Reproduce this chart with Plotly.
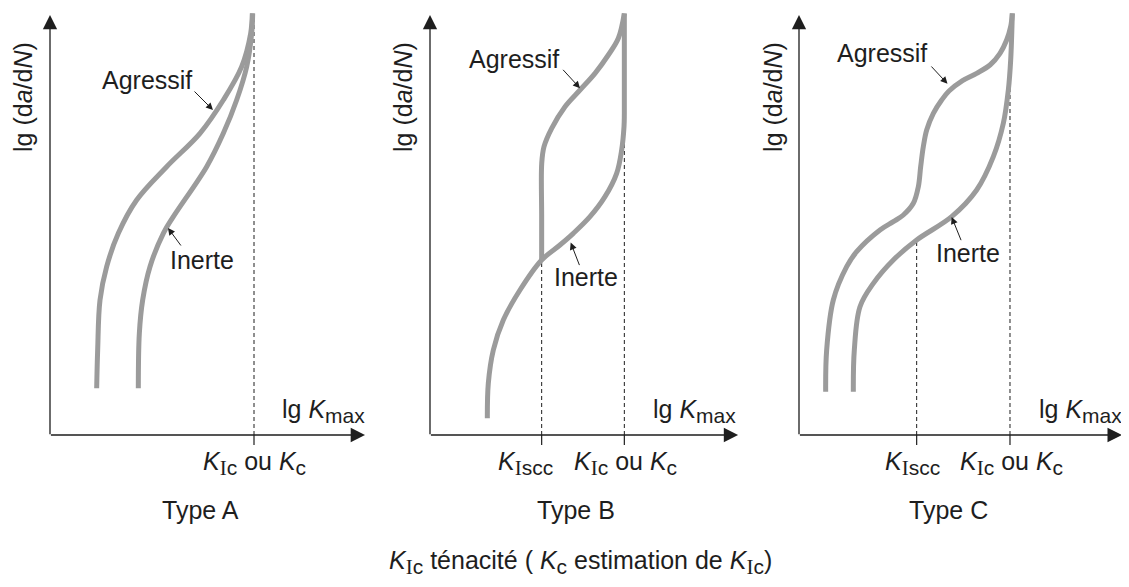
import plotly.graph_objects as go

# ---------------- data (panel units: x = lg Kmax, y = lg da/dN) ----------------
# Type A
agr_a_x = [1.556, 1.589, 1.667, 1.889, 2.278, 2.889, 3.889, 5.0, 5.778, 6.389, 6.689, 6.744]
agr_a_y = [1.167, 2.125, 3.375, 4.208, 5.042, 5.875, 6.708, 7.542, 8.375, 9.208, 10.04, 10.54]
inr_a_x = [2.944, 2.978, 3.089, 3.333, 3.778, 4.111, 5.222, 5.778, 6.222, 6.556, 6.722, 6.756]
inr_a_y = [1.167, 2.542, 3.375, 4.208, 5.042, 5.458, 6.708, 7.542, 8.375, 9.208, 10.04, 10.54]
# Type B
inr_b_x = [1.911, 1.944, 2.111, 2.444, 3.0, 3.722, 4.333, 4.778, 5.333, 5.833, 6.222, 6.389, 6.467, 6.478, 6.478]
inr_b_y = [0.417, 1.292, 2.125, 2.875, 3.625, 4.375, 4.750, 5.042, 5.458, 5.958, 6.542, 7.125, 7.708, 8.042, 10.54]
agr_b_x = [3.722, 3.722, 3.724, 3.8, 4.056, 4.5, 5.0, 5.5, 5.944, 6.278, 6.478]
agr_b_y = [4.375, 5.5, 6.792, 7.208, 7.667, 8.208, 8.625, 9.042, 9.5, 9.917, 10.54]
# Type C
agr_c_x = [0.889, 0.922, 1.144, 1.589, 1.922, 2.7, 3.144, 3.478, 3.811, 3.978, 4.056, 4.144, 4.256, 4.478,
           4.756, 5.0, 5.45, 5.922, 6.367, 6.7, 6.922, 7.056, 7.111]
agr_c_y = [1.083, 2.125, 3.375, 4.208, 4.583, 5.125, 5.333, 5.5, 5.792, 6.208, 6.708, 7.208, 7.625, 8.042,
           8.375, 8.6, 8.86, 9.042, 9.25, 9.542, 9.875, 10.21, 10.54]
inr_c_x = [1.811, 1.844, 2.033, 2.478, 3.144, 3.922, 5.089, 5.922, 6.478, 6.811, 6.978, 7.056, 7.111]
inr_c_y = [1.083, 2.125, 3.208, 3.792, 4.375, 4.875, 5.458, 6.125, 6.958, 7.792, 8.625, 9.375, 10.54]

# characteristic K values per panel and top of their dashed guides
k_ic = [6.8, 6.478, 7.033]
k_ic_top = [10.5, 8.042, 8.71]
k_iscc = [None, 3.722, 3.922]
k_iscc_top = [None, 4.375, 4.875]
x_axis_len = [10.5, 10.27, 10.76]
y_axis_len = 10.5

panel_names = ["Type A", "Type B", "Type C"]
curve_names = ["Agressif", "Inerte"]

# ---------------- styles ----------------
CURVE = "#9b9b9b"
INK = "#1e1e1e"
FONT = "Liberation Sans, Arial, sans-serif"
FS = 25
SUBFS = 21


def sub(s):
    return '<sub><span style="font-size:%dpx">%s</span></sub>' % (SUBFS, s)


SUBI = '<span style="font-family:Liberation Serif;font-size:%dpx">I</span>' % SUBFS
KIC = '<i>K</i><sub>' + SUBI + '<span style="font-size:%dpx">c</span></sub>' % SUBFS
KISCC = '<i>K</i><sub>' + SUBI + '<span style="font-size:%dpx">scc</span></sub>' % SUBFS
KC = '<i>K</i>' + sub('c')

fig = go.Figure()

# page has an 8px body margin, so the figure is drawn 8px smaller and shifted
OFF = 8
W, H = 1129 - 2 * OFF, 587 - 2 * OFF
PX_PER_X, PX_PER_Y = 30.0, 40.0
x_left_units = -1.0
domains_px = [(20 - OFF, 380 - OFF), (400 - OFF, 760 - OFF), (769 - OFF, W)]
y_top_px, y_bot_px = 0, 535 - OFF
y_origin_px = 435 - OFF
y_range = [(y_origin_px - y_bot_px) / PX_PER_Y, (y_origin_px - y_top_px) / PX_PER_Y]
ydom = [(H - y_bot_px) / H, 1.0]

layout_axes = {}
for i, (a, b) in enumerate(domains_px):
    sfx = "" if i == 0 else str(i + 1)
    xr_max = x_left_units + (b - a) / PX_PER_X
    layout_axes["xaxis" + sfx] = dict(domain=[a / W, b / W], range=[x_left_units, xr_max],
                                      visible=False, anchor="y" + sfx, fixedrange=True)
    layout_axes["yaxis" + sfx] = dict(domain=ydom, range=y_range, visible=False,
                                      anchor="x" + sfx, fixedrange=True)

curves = [
    [(agr_a_x, agr_a_y), (inr_a_x, inr_a_y)],
    [(agr_b_x, agr_b_y), (inr_b_x, inr_b_y)],
    [(agr_c_x, agr_c_y), (inr_c_x, inr_c_y)],
]

annotations = []

for i in range(3):
    sfx = "" if i == 0 else str(i + 1)
    xr, yr = "x" + sfx, "y" + sfx
    ks = [(k_ic[i], k_ic_top[i])]
    if k_iscc[i] is not None:
        ks.append((k_iscc[i], k_iscc_top[i]))
    for k, top in ks:
        fig.add_trace(go.Scatter(x=[k, k], y=[0, top], mode="lines", xaxis=xr, yaxis=yr,
                                 line=dict(color=INK, width=1, dash="4px,3px"),
                                 showlegend=False, hoverinfo="skip"))
        fig.add_trace(go.Scatter(x=[k, k], y=[-0.25, 0], mode="lines", xaxis=xr, yaxis=yr,
                                 line=dict(color=INK, width=1.2),
                                 showlegend=False, hoverinfo="skip"))
    for name, (cx, cy) in zip(curve_names, curves[i]):
        fig.add_trace(go.Scatter(x=cx, y=cy, mode="lines", name=name, xaxis=xr, yaxis=yr,
                                 line=dict(color=CURVE, width=5, shape="spline", smoothing=1.0),
                                 showlegend=False, hoverinfo="skip"))
    annotations.append(dict(x=0, y=y_axis_len, ax=0, ay=-0.02, xref=xr, yref=yr, axref=xr, ayref=yr,
                            showarrow=True, arrowhead=2, arrowsize=2.2, arrowwidth=1.3,
                            arrowcolor=INK, text=""))
    annotations.append(dict(x=x_axis_len[i], y=0, ax=-0.02, ay=0, xref=xr, yref=yr, axref=xr, ayref=yr,
                            showarrow=True, arrowhead=2, arrowsize=2.2, arrowwidth=1.3,
                            arrowcolor=INK, text=""))


def txt(text, x, y, xr, yr, size=FS, angle=0):
    annotations.append(dict(text=text, x=x, y=y, xref=xr, yref=yr, showarrow=False,
                            textangle=angle, font=dict(family=FONT, size=size, color=INK),
                            xanchor="center", yanchor="middle"))


def arr(x, y, ax, ay, xr, yr):
    annotations.append(dict(text="", x=x, y=y, ax=ax, ay=ay, xref=xr, yref=yr, axref=xr, ayref=yr,
                            showarrow=True, arrowhead=2, arrowsize=1.4, arrowwidth=1,
                            arrowcolor=INK))


LGK = "lg <i>K</i>" + sub("max")
YT = "lg (d<i>a</i>/d<i>N</i>)"

# Panel A
txt(YT, -0.9, 8.45, "x", "y", angle=-90)
txt("Agressif", 3.233, 8.875, "x", "y")
arr(5.433, 8.125, 4.767, 8.625, "x", "y")
txt("Inerte", 5.067, 4.375, "x", "y")
arr(3.933, 5.175, 4.4, 4.7, "x", "y")
txt(LGK, 9.1, 0.6, "x", "y")
txt(KIC + " ou " + KC, 6.8, -0.7, "x", "y")
txt(panel_names[0], 5.0, -1.875, "x", "y")

# Panel B
txt(YT, -0.9, 8.45, "x2", "y2", angle=-90)
txt("Agressif", 2.8, 9.4, "x2", "y2")
arr(5.0, 8.67, 4.39, 9.167, "x2", "y2")
txt("Inerte", 5.194, 3.95, "x2", "y2")
arr(4.69, 4.81, 5.0, 4.21, "x2", "y2")
txt(LGK, 8.83, 0.6, "x2", "y2")
txt(KISCC, 3.17, -0.7, "x2", "y2")
txt(KIC + " ou " + KC, 6.5, -0.7, "x2", "y2")
txt(panel_names[1], 4.867, -1.875, "x2", "y2")

# Panel C
txt(YT, -0.87, 8.45, "x3", "y3", angle=-90)
txt("Agressif", 2.783, 9.55, "x3", "y3")
arr(4.95, 8.78, 4.367, 9.25, "x3", "y3")
txt("Inerte", 5.617, 4.5625, "x3", "y3")
arr(5.089, 5.45, 5.422, 4.833, "x3", "y3")
txt(LGK, 9.37, 0.6, "x3", "y3")
txt(KISCC, 3.77, -0.7, "x3", "y3")
txt(KIC + " ou " + KC, 7.07, -0.7, "x3", "y3")
txt(panel_names[2], 4.97, -1.875, "x3", "y3")

# Caption
annotations.append(dict(text=KIC + " ténacité ( " + KC + " estimation de " + KIC + ")",
                        x=(580 - OFF) / W, y=(H - (562 - OFF)) / H, xref="paper", yref="paper",
                        showarrow=False, font=dict(family=FONT, size=FS, color=INK),
                        xanchor="center", yanchor="middle"))

fig.update_layout(width=W, height=H, margin=dict(l=0, r=0, t=0, b=0),
                  paper_bgcolor="white", plot_bgcolor="white",
                  annotations=annotations, **layout_axes)

fig.write_html("out.html")
